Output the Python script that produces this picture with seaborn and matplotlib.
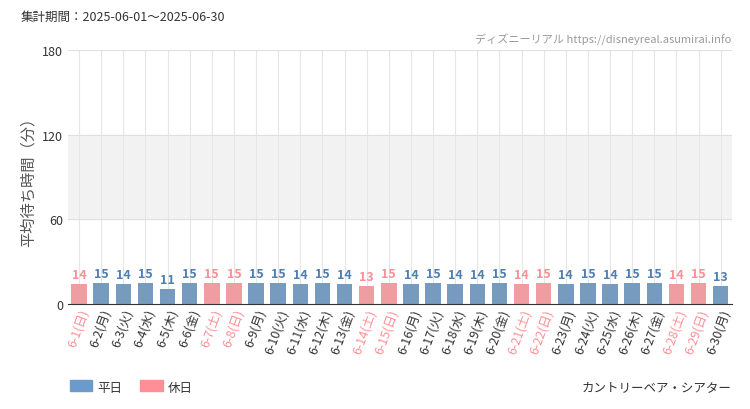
import matplotlib
matplotlib.use("Agg")
import matplotlib.pyplot as plt
import seaborn as sns
import pandas as pd

dates = [f"6-{d}" for d in range(1, 31)]
weekdays = ["日","月","火","水","木","金","土"]
values = [14,15,14,15,11,15,15,15,15,15,14,15,14,13,15,14,15,14,14,15,14,15,14,15,14,15,15,14,15,13]
day_type = ["休日","平日","平日","平日","平日","平日","休日","休日","平日","平日","平日","平日","平日","休日",
            "休日","平日","平日","平日","平日","平日","休日","休日","平日","平日","平日","平日","平日","休日","休日","平日"]
labels = [f"{d}({weekdays[i % 7]})" for i, d in enumerate(dates)]

plt.rcParams["font.family"] = "Noto Sans CJK JP"
BLUE = "#6b9bcb"
PINK = "#fe8f96"
df = pd.DataFrame({"label": labels, "value": values, "type": day_type})

fig = plt.figure(figsize=(7.5, 4.1), dpi=100)
ax = fig.add_axes([0.0907, 0.256, 0.885, 0.62])
ax.axhspan(60, 120, color="#f2f2f2", zorder=0)
sns.barplot(data=df, x="label", y="value", hue="type", palette={"平日": BLUE, "休日": PINK},
            hue_order=["平日", "休日"], dodge=False, width=0.7, ax=ax, legend=False, zorder=2)
ax.set_ylim(0, 180)
ax.set_xlim(-0.5, len(labels) - 0.5)
ax.set_yticks([0, 60, 120, 180])
ax.tick_params(axis="y", labelsize=9, length=0, colors="#333333")
ax.tick_params(axis="x", length=0, pad=2)
ax.set_xticks(range(len(labels)))
ax.set_xticklabels(labels, rotation=70, ha="right", rotation_mode="anchor", fontsize=9)
for t, ty in zip(ax.get_xticklabels(), day_type):
    t.set_color(PINK if ty == "休日" else "#333333")
for i, (v, ty) in enumerate(zip(values, day_type)):
    ax.text(i, v + 2, str(v), ha="center", va="bottom", fontsize=9, fontweight="bold",
            color=PINK if ty == "休日" else "#4f7fb0", fontfamily="Liberation Sans Narrow" if False else "Noto Sans CJK JP")
for i in range(len(labels)):
    ax.axvline(i, color="#e6e6e6", lw=0.8, zorder=1)
for y in [60, 120, 180]:
    ax.axhline(y, color="#e0e0e0", lw=0.8, zorder=1)
ax.set_xlabel("")
ax.set_ylabel("平均待ち時間（分）", fontsize=11, color="#555555")
for s in ["top", "right", "left"]:
    ax.spines[s].set_visible(False)
ax.spines["bottom"].set_color("#333333")

fig.text(0.027, 0.95, "集計期間：2025-06-01～2025-06-30", fontsize=9, color="#333333")
fig.text(0.975, 0.895, "ディズニーリアル https://disneyreal.asumirai.info", fontsize=8, color="#999999", ha="right")
fig.text(0.975, 0.045, "カントリーベア・シアター", fontsize=9, color="#333333", ha="right")
fig.patches.append(plt.Rectangle((0.093, 0.045), 0.03, 0.025, color=BLUE, transform=fig.transFigure, figure=fig))
fig.text(0.13, 0.045, "平日", fontsize=9, color="#333333")
fig.patches.append(plt.Rectangle((0.187, 0.045), 0.03, 0.025, color=PINK, transform=fig.transFigure, figure=fig))
fig.text(0.224, 0.045, "休日", fontsize=9, color="#333333")
fig.savefig("out.png", dpi=100)
